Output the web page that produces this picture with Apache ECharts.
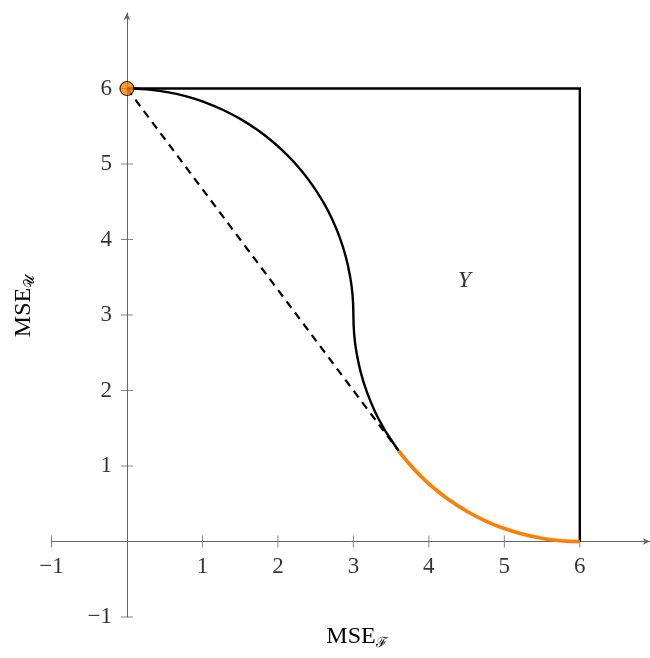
<!DOCTYPE html>
<html>
<head>
<meta charset="utf-8">
<script src="https://cdn.jsdelivr.net/npm/echarts@6/dist/echarts.min.js"></script>
<style>html,body{margin:0;padding:0;background:#fff}#c{width:650px;height:658px}</style>
</head>
<body>
<div id="c"></div>
<script>
// ---- data ----
var xTicks = [-1, 1, 2, 3, 4, 5, 6];
var yTicks = [-1, 1, 2, 3, 4, 5, 6];
var boxLine = [[0, 6], [6, 6], [6, 0]];
var upperArc = [[0, 6], [0.261, 5.989], [0.521, 5.954], [0.776, 5.898], [1.026, 5.819], [1.268, 5.719],
  [1.5, 5.598], [1.721, 5.457], [1.928, 5.298], [2.121, 5.121], [2.298, 4.928], [2.457, 4.721],
  [2.598, 4.5], [2.719, 4.268], [2.819, 4.026], [2.898, 3.776], [2.954, 3.521], [2.989, 3.262], [3, 3]];
var lowerArcBlack = [[3, 3], [3.011, 2.738], [3.046, 2.479], [3.102, 2.224], [3.181, 1.974],
  [3.281, 1.732], [3.402, 1.5], [3.5, 1.348], [3.6, 1.2]];
var lowerArcOrange = [[3.6, 1.2], [3.702, 1.072], [3.879, 0.879], [4.072, 0.702], [4.279, 0.543],
  [4.5, 0.402], [4.732, 0.281], [4.974, 0.181], [5.224, 0.102], [5.479, 0.046], [5.739, 0.011], [6, 0]];
var dashedLine = [[0, 6], [3.6, 1.2]];
var startPoint = [[0, 6]];
var regionLabel = [[4.47, 3.45]];

var chart = echarts.init(document.getElementById('c'), null, {renderer: 'canvas'});
var serif = 'Liberation Serif';
var axisColor = '#666';
var xTickMarks = xTicks.map(function (v) { return [v, 0]; });
var yTickMarks = yTicks.map(function (v) { return [0, v]; });
function fmt(v) { return v < 0 ? '\u2212' + Math.abs(v) : String(v); }
var titleRich = {
  m: {fontFamily: serif, fontSize: 24, fill: '#000'},
  s: {fontFamily: 'DejaVu Serif', fontSize: 14, fill: '#000', padding: [12, 0, 0, 0]}
};
var option = {
  animation: false,
  grid: {left: 51.5, top: 13, width: 598.7, height: 604, containLabel: false},
  xAxis: {
    type: 'value', min: -1, max: 6.93, interval: 1,
    axisLine: {onZero: true, lineStyle: {color: axisColor, width: 1}, symbol: ['none', 'arrow'], symbolSize: [5, 7]},
    axisTick: {show: false}, splitLine: {show: false}, axisLabel: {show: false}
  },
  yAxis: {
    type: 'value', min: -1, max: 7, interval: 1,
    axisLine: {onZero: true, lineStyle: {color: axisColor, width: 1}, symbol: ['none', 'arrow'], symbolSize: [5, 7]},
    axisTick: {show: false}, splitLine: {show: false}, axisLabel: {show: false}
  },
  graphic: [
    {type: 'text', x: 357, y: 637,
      style: {text: '{m|MSE}{s|ℱ}', rich: titleRich, align: 'center', verticalAlign: 'middle'}},
    {type: 'text', x: 24, y: 306, rotation: Math.PI / 2,
      style: {text: '{m|MSE}{s|𝒰}', rich: titleRich, align: 'center', verticalAlign: 'middle'}}
  ],
  series: [
    {type: 'scatter', data: xTickMarks, symbol: 'rect', symbolSize: [1, 12], itemStyle: {color: axisColor}, silent: true, z: 1,
      label: {show: true, position: 'inside', offset: [0, 25], fontFamily: serif, fontSize: 23, color: '#000',
        formatter: function (p) { return fmt(p.value[0]); }}},
    {type: 'scatter', data: yTickMarks, symbol: 'rect', symbolSize: [12, 1], itemStyle: {color: axisColor}, silent: true, z: 1,
      label: {show: true, position: 'inside', align: 'right', offset: [-15, 0], fontFamily: serif, fontSize: 23, color: '#000',
        formatter: function (p) { return fmt(p.value[1]); }}},
    {type: 'line', data: dashedLine, showSymbol: false, lineStyle: {color: '#000', width: 2.2, type: [8, 6]}, z: 3},
    {type: 'line', data: boxLine, showSymbol: false, lineStyle: {color: '#000', width: 2.4, join: 'miter'}, z: 3},
    {type: 'line', data: upperArc, showSymbol: false, smooth: true, lineStyle: {color: '#000', width: 2.4}, z: 3},
    {type: 'line', data: lowerArcBlack, showSymbol: false, smooth: true, lineStyle: {color: '#000', width: 2.4}, z: 3},
    {type: 'line', data: lowerArcOrange, showSymbol: false, smooth: true, lineStyle: {color: '#FF8000', width: 3.6}, z: 4},
    {type: 'scatter', data: startPoint, symbol: 'circle', symbolSize: 14, itemStyle: {color: '#FF8000', borderColor: '#000', borderWidth: 1.2}, z: 5},
    {type: 'scatter', data: regionLabel, symbolSize: 0,
      label: {show: true, position: 'inside', formatter: 'Y', fontFamily: serif, fontStyle: 'italic', fontSize: 24, color: '#000'}, z: 5}
  ]
};
chart.setOption(option);
</script>
</body>
</html>
